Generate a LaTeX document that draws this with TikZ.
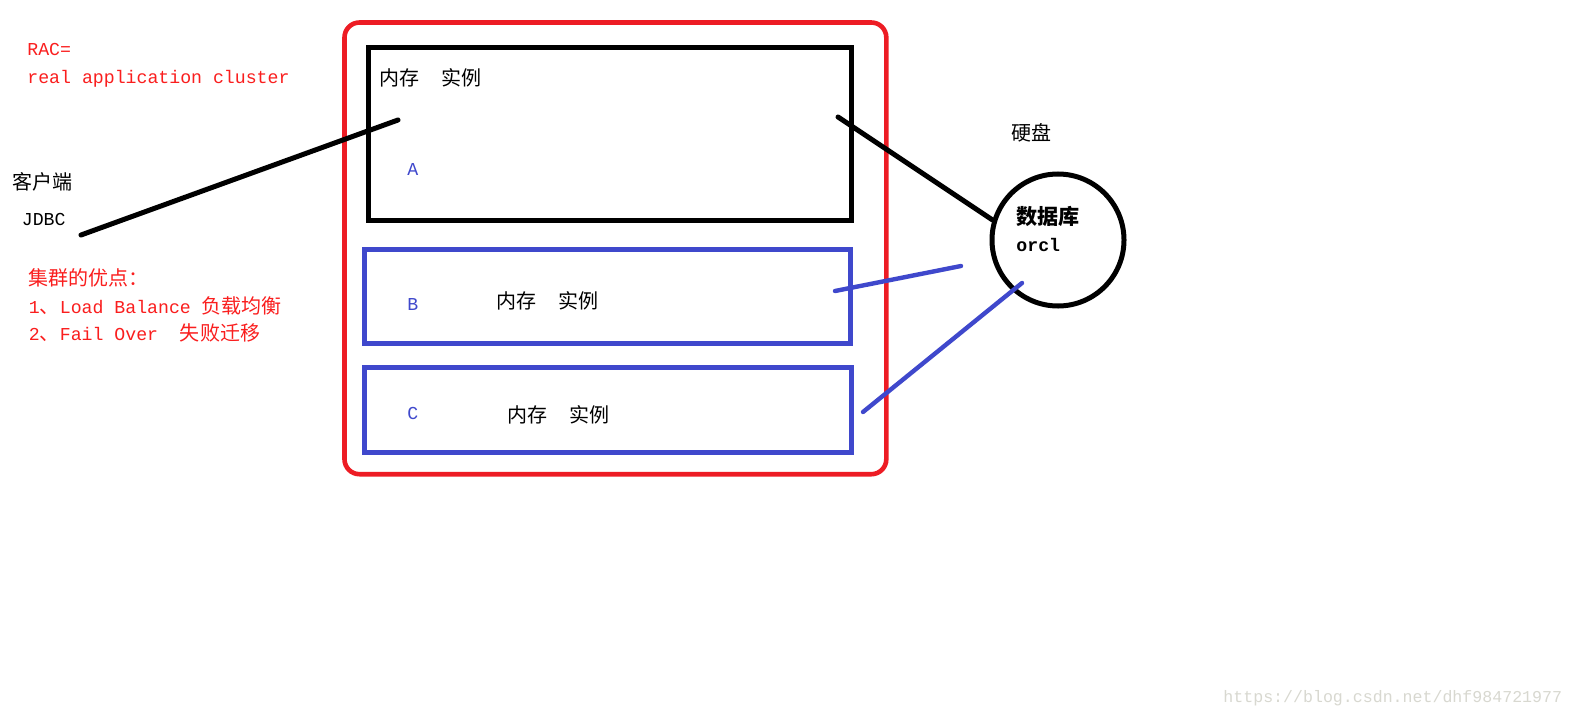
\documentclass[tikz,border=0pt]{standalone}
\usepackage{fontspec}
\setmainfont{Liberation Mono}
\newfontfamily\cjk[Scale=1.1]{Noto Sans CJK SC}
\newcommand\zhtext[1]{{\cjk #1}}
\definecolor{pred}{HTML}{ED1C24}
\definecolor{pblue}{HTML}{3F48CC}
\definecolor{tred}{HTML}{FA1E1E}
\definecolor{wm}{HTML}{D8D8D0}
\begin{document}
\begin{tikzpicture}[x=0.5bp,y=-0.5bp,
  txt/.style={anchor=west, inner sep=0pt, font=\fontsize{9.1bp}{11bp}\selectfont},
  redtxt/.style={txt, text=tred},
  bluetxt/.style={txt, text=pblue},
  redbox/.style={draw=pred, line width=2.3bp, rounded corners=7.5bp, inner sep=0pt},
  blackbox/.style={draw=black, line width=2.6bp, inner sep=0pt},
  bluebox/.style={draw=pblue, line width=2.3bp, inner sep=0pt},
  conn/.style={line width=2.5bp, line cap=round},
  bconn/.style={draw=pblue, line width=2.2bp, line cap=round}]
\useasboundingbox[fill=white] (0,0) rectangle (1574,717);
% boxes
\node[redbox, minimum width=270.9bp, minimum height=225.85bp] (cluster) at (615.4,248.35) {};
\node[blackbox, minimum width=241.5bp, minimum height=86.8bp] (A) at (610.2,134) {};
\node[bluebox, minimum width=243.2bp, minimum height=46.9bp] (B) at (607.5,296.4) {};
\node[bluebox, minimum width=243.7bp, minimum height=42.35bp] (C) at (608,409.85) {};
\node[circle, draw, line width=2.5bp, minimum size=66bp, inner sep=0pt] (disk) at (1058,240) {};
% left texts
\node[redtxt] (rac) at (27,50) {RAC=};
\node[redtxt] (racfull) at (27,79) {real application cluster};
\node[txt] (client) at (12.5,182) {\zhtext{客户端}};
\node[txt] (jdbc) at (21.5,219.5) {JDBC};
\node[redtxt] (adv) at (28.3,278) {\zhtext{集群的优点：}};
\node[redtxt] (adv1) at (28.5,306) {1\zhtext{、}Load Balance \zhtext{负载均衡}};
\node[redtxt] (adv2) at (28.5,332.5) {2\zhtext{、}Fail Over~~\zhtext{失败迁移}};
% box texts
\node[txt] (memA) at (379,78) {\zhtext{内存}\hspace{11bp}\zhtext{实例}};
\node[bluetxt] (lblA) at (407,170) {A};
\node[bluetxt] (lblB) at (407,305) {B};
\node[txt] (memB) at (496,301) {\zhtext{内存}\hspace{11bp}\zhtext{实例}};
\node[bluetxt] (lblC) at (407,413) {C};
\node[txt] (memC) at (507.5,414.5) {\zhtext{内存}\hspace{11bp}\zhtext{实例}};
% disk texts
\node[txt] (hd) at (1011.5,132.5) {\zhtext{硬盘}};
\node[txt, font=\fontsize{9.6bp}{11bp}\selectfont\bfseries] (db) at (1016,216.7) {\zhtext{数据库}};
\node[txt, font=\fontsize{9.1bp}{11bp}\selectfont\bfseries] (orcl) at (1016,244.8) {orcl};
% watermark
\node[txt, text=wm, font=\fontsize{8.3bp}{10bp}\selectfont] (wmark) at (1223,698) {https://blog.csdn.net/dhf984721977};
% connectors
\coordinate (jdbcTip) at (81,235);
\coordinate (aLeft) at (398,120);
\coordinate (aRight) at (838,117);
\coordinate (bRight) at (835,291);
\coordinate (bEnd) at (961,266);
\coordinate (cRight) at (863,412);
\coordinate (cEnd) at (1022,283);
\draw[conn] (jdbcTip) -- (aLeft);
\draw[conn] (aRight) -- (disk.163);
\draw[bconn] (bRight) -- (bEnd);
\draw[bconn] (cRight) -- (cEnd);
\end{tikzpicture}
\end{document}
